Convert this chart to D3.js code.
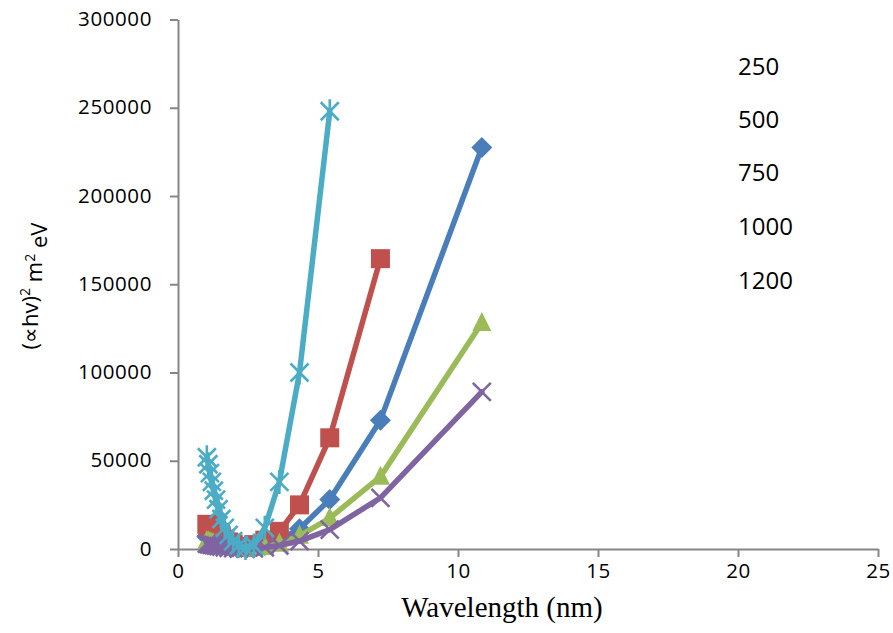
<!DOCTYPE html>
<html>
<head>
<meta charset="utf-8">
<script src="https://cdn.jsdelivr.net/npm/d3@7"></script>
<style>
  body { margin: 0; background: #fff; }
  svg { display: block; }
</style>
</head>
<body>
<svg id="chart" width="893" height="633"></svg>
<script>
// ---- data ----
const energies = [1.03, 1.085, 1.14, 1.21, 1.28, 1.36, 1.45, 1.55, 1.67, 1.81, 1.97, 2.17, 2.41, 2.71, 3.1, 3.62, 4.34, 5.42, 7.23, 10.85];
const seriesNames = ["250", "500", "750", "1000", "1200"];
const s250  = [7000, 6500, 6000, 5500, 5000, 4300, 3700, 3000, 2400, 1800, 1200, 700, 400, 700, 2000, 5000, 11500, 28000, 73000, 227500];
const s500  = [14000, 13500, 13000, 12000, 11000, 10000, 8500, 7000, 5500, 4000, 2800, 1500, 800, 2500, 5000, 10000, 25000, 63000, 164500];
const s750  = [4500, 4200, 3900, 3500, 3100, 2700, 2300, 1900, 1500, 1100, 700, 400, 200, 500, 1200, 3000, 7500, 17500, 41000, 128000];
const s1000 = [3000, 2800, 2600, 2400, 2200, 1900, 1600, 1300, 1000, 700, 500, 300, 200, 400, 900, 2000, 4500, 11000, 29000, 89000];
const s1200 = [52000, 48000, 43000, 38000, 33000, 28000, 22500, 17000, 12000, 8000, 4500, 2000, 500, 2000, 12000, 38000, 100000, 248000];
const xTicks = [0, 5, 10, 15, 20, 25];
const yTicks = [0, 50000, 100000, 150000, 200000, 250000, 300000];

const allSeries = [s250, s500, s750, s1000, s1200];
const colors = ["#4A7EBB", "#C0504D", "#9BBB59", "#8064A2", "#4BACC6"];
const markers = ["diamond", "square", "triangle", "cross", "star"];

// ---- layout ----
const svg = d3.select("#chart");
const x = d3.scaleLinear().domain([0, 25]).range([178, 878]);
const y = d3.scaleLinear().domain([0, 300000]).range([549, 19.5]);
const axisColor = "#868686";
const tickFont = "'Open Sans', sans-serif";

// y axis
const gy = svg.append("g").attr("transform", `translate(${x(0)},0)`)
  .call(d3.axisLeft(y).tickValues(yTicks).tickSizeInner(8).tickSizeOuter(0).tickPadding(18).tickFormat(d3.format("d")));
gy.select(".domain").attr("stroke", axisColor).attr("stroke-width", 2);
gy.selectAll(".tick line").attr("stroke", axisColor).attr("stroke-width", 2);
gy.selectAll(".tick text").attr("fill", "#000").style("font-family", tickFont)
  .style("font-size", "20.5px").style("letter-spacing", "0.6px").attr("dy", "0.3em");

// x axis
const gx = svg.append("g").attr("transform", `translate(0,${y(0)})`)
  .call(d3.axisBottom(x).tickValues(xTicks).tickSizeInner(8).tickSizeOuter(0).tickPadding(6).tickFormat(d3.format("d")));
gx.select(".domain").attr("stroke", axisColor).attr("stroke-width", 2);
gx.selectAll(".tick line").attr("stroke", axisColor).attr("stroke-width", 2);
gx.selectAll(".tick text").attr("fill", "#000").style("font-family", tickFont)
  .style("font-size", "20.5px").style("letter-spacing", "0.6px");

// ---- series ----
const line = d3.line().x(d => x(d[0])).y(d => y(d[1]));

function drawMarker(g, type, color) {
  if (type === "diamond") {
    g.append("path").attr("d", "M0,-10.5L10.5,0L0,10.5L-10.5,0Z").attr("fill", color);
  } else if (type === "square") {
    g.append("rect").attr("x", -9.5).attr("y", -9.5).attr("width", 19).attr("height", 19).attr("fill", color);
  } else if (type === "triangle") {
    g.append("path").attr("d", "M0,-11L9.5,8L-9.5,8Z").attr("fill", color);
  } else if (type === "cross") {
    g.append("path").attr("d", "M-9,-9L9,9M-9,9L9,-9").attr("stroke", color).attr("stroke-width", 2.6).attr("fill", "none");
  } else if (type === "star") {
    g.append("path").attr("d", "M-9,-9L9,9M-9,9L9,-9M0,-12L0,12").attr("stroke", color).attr("stroke-width", 2.6).attr("fill", "none");
  }
}

allSeries.forEach((vals, i) => {
  const pts = vals.map((v, j) => [energies[j], v]);
  const g = svg.append("g").attr("class", "series-" + seriesNames[i]);
  g.append("path").datum(pts).attr("d", line)
    .attr("fill", "none").attr("stroke", colors[i]).attr("stroke-width", 5.5)
    .attr("stroke-linejoin", "round").attr("stroke-linecap", "round");
  pts.forEach(p => {
    const mg = g.append("g").attr("transform", `translate(${x(p[0])},${y(p[1])})`);
    drawMarker(mg, markers[i], colors[i]);
  });
});

// ---- legend (text only) ----
const legendY = [67, 120, 173, 227, 281];
seriesNames.forEach((n, i) => {
  svg.append("text").attr("x", 738).attr("y", legendY[i]).attr("dy", "0.35em")
    .style("font-family", tickFont).style("font-size", "24px").attr("fill", "#000").text(n);
});

// ---- axis titles ----
svg.append("text").attr("x", 502).attr("y", 617).attr("text-anchor", "middle")
  .style("font-family", "'Liberation Serif', 'Times New Roman', serif").style("font-size", "29px")
  .attr("fill", "#000").text("Wavelength (nm)");

const yt = svg.append("text").attr("transform", "translate(38,286) rotate(-90)").attr("text-anchor", "middle")
  .style("font-family", tickFont).style("font-size", "22px").attr("fill", "#000");
yt.append("tspan").text("(∝hv)");
yt.append("tspan").attr("dy", "-0.55em").style("font-size", "14px").text("2");
yt.append("tspan").attr("dy", "0.55em").text(" m");
yt.append("tspan").attr("dy", "-0.55em").style("font-size", "14px").text("2");
yt.append("tspan").attr("dy", "0.55em").text(" eV");
</script>
</body>
</html>
